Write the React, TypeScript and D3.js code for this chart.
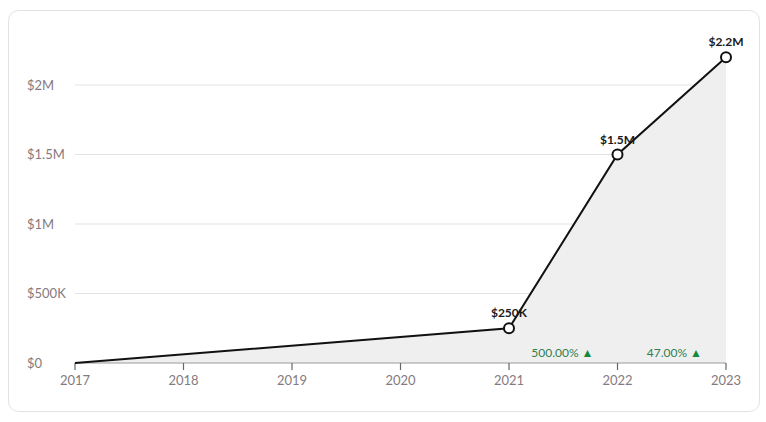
import React from 'react';
import * as d3 from 'd3';

const years = [2017, 2018, 2019, 2020, 2021, 2022, 2023];
const pointYears = [2017, 2021, 2022, 2023];
const pointValues = [0, 250000, 1500000, 2200000];
const pointLabels = ['', '$250K', '$1.5M', '$2.2M'];
const yTicks = [0, 500000, 1000000, 1500000, 2000000];
const yTickLabels = ['$0', '$500K', '$1M', '$1.5M', '$2M'];
const growthYears = [2022, 2023];
const growthLabels = ['500.00%', '47.00%'];

const W = 766;
const H = 422;

const App: React.FC = () => {
  const x = d3.scaleLinear().domain([2017, 2023]).range([75, 726]);
  const y = d3.scaleLinear().domain([0, 2000000]).range([363, 85]);

  const pts = pointYears.map((yr, i) => ({ yr, v: pointValues[i] }));
  const line = d3
    .line<{ yr: number; v: number }>()
    .x((d) => x(d.yr))
    .y((d) => y(d.v));
  const area = d3
    .area<{ yr: number; v: number }>()
    .x((d) => x(d.yr))
    .y0(y(0))
    .y1((d) => y(d.v));

  const font = 'Lato, "Open Sans", sans-serif';

  return (
    <svg
      width={W}
      height={H}
      style={{ position: 'absolute', left: 0, top: 0, fontFamily: font }}
    >
      <rect x={8.5} y={10.5} width={751} height={401} rx={10} fill="#fff" stroke="#e2e2e2" />

      {/* grid */}
      {yTicks.slice(1).map((t) => (
        <line key={t} x1={x(2017)} x2={x(2023)} y1={y(t)} y2={y(t)} stroke="#e3e3e3" strokeWidth={1} />
      ))}
      {yTicks.map((t, i) => (
        <text key={t} x={27} y={y(t)} dy="0.35em" fontSize={13} fill="#857a80">
          {yTickLabels[i]}
        </text>
      ))}

      <path d={area(pts) || ''} fill="#efefef" />

      {/* x axis */}
      <line x1={x(2017)} x2={x(2023)} y1={y(0)} y2={y(0)} stroke="#9a9a9a" strokeWidth={1} />
      {years.map((yr) => (
        <g key={yr}>
          <line x1={x(yr)} x2={x(yr)} y1={y(0)} y2={y(0) + 7} stroke="#666" strokeWidth={1.2} />
          <text x={x(yr)} y={y(0) + 22} textAnchor="middle" fontSize={13} fill="#857a80">
            {yr}
          </text>
        </g>
      ))}

      <path d={line(pts) || ''} fill="none" stroke="#111" strokeWidth={2} />

      {pts.slice(1).map((d, i) => (
        <g key={d.yr}>
          <circle cx={x(d.yr)} cy={y(d.v)} r={5} fill="#fff" stroke="#111" strokeWidth={2} />
          <text
            x={x(d.yr)}
            y={y(d.v) - 11}
            textAnchor="middle"
            fontSize={12}
            fontWeight={700}
            fill="#1a1a1a"
          >
            {pointLabels[i + 1]}
          </text>
        </g>
      ))}

      {growthYears.map((yr, i) => (
        <text key={yr} x={x(yr) - 24} y={y(0) - 6} textAnchor="end" fontSize={12} fill="#2f7f4f">
          {growthLabels[i]} <tspan fill="#138a3c">▲</tspan>
        </text>
      ))}
    </svg>
  );
};

export default App;
